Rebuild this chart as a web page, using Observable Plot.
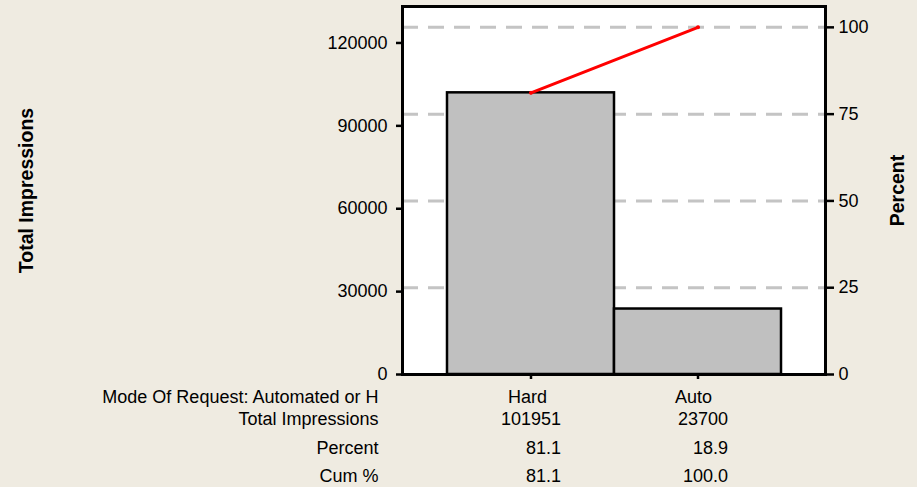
<!DOCTYPE html>
<html>
<head>
<meta charset="utf-8">
<script src="https://cdn.jsdelivr.net/npm/d3@7"></script>
<script src="https://cdn.jsdelivr.net/npm/@observablehq/plot@0.6"></script>
<style>
  html, body { margin: 0; padding: 0; background: #efebe1; }
  #chart { width: 917px; height: 487px; }
</style>
</head>
<body>
<div id="chart"></div>
<script>
const categories = ["Hard", "Auto"];
const totals = [101951, 23700];
const percents = [81.1, 18.9];
const cumPercents = [81.1, 100.0];
const leftTicks = [0, 30000, 60000, 90000, 120000];
const rightTicks = [0, 25, 50, 75, 100];
const rowLabels = ["Mode Of Request: Automated or H", "Total Impressions", "Percent", "Cum %"];
const yTitle = "Total Impressions";
const y2Title = "Percent";

const grand = d3.sum(totals);
const cumTotals = d3.cumsum(totals);
const data = categories.map((c, i) => ({
  cat: c, total: totals[i], pct: percents[i], cum: cumPercents[i], cumTotal: cumTotals[i]
}));
const pctToY = p => p / 100 * grand;

const rowDy = [23, 44.5, 73.5, 101.5];
const font = "Liberation Sans, Arial, sans-serif";

const rowMarks = [];
rowLabels.forEach((lab, r) => {
  rowMarks.push(Plot.text([lab], {
    frameAnchor: "bottom-left", text: d => d, dx: -24, dy: rowDy[r],
    textAnchor: "end", lineAnchor: "middle", fill: "black"
  }));
});
rowMarks.push(Plot.text(data, {x: "cat", text: "cat", frameAnchor: "bottom", dx: -23, dy: rowDy[0], textAnchor: "start", lineAnchor: "middle", fill: "black"}));
rowMarks.push(Plot.text(data, {x: "cat", text: d => String(d.total), frameAnchor: "bottom", dx: 30, dy: rowDy[1], textAnchor: "end", lineAnchor: "middle", fill: "black"}));
rowMarks.push(Plot.text(data, {x: "cat", text: d => d.pct.toFixed(1), frameAnchor: "bottom", dx: 30, dy: rowDy[2], textAnchor: "end", lineAnchor: "middle", fill: "black"}));
rowMarks.push(Plot.text(data, {x: "cat", text: d => d.cum.toFixed(1), frameAnchor: "bottom", dx: 30, dy: rowDy[3], textAnchor: "end", lineAnchor: "middle", fill: "black"}));

const chart = Plot.plot({
  width: 917,
  height: 487,
  marginLeft: 402,
  marginRight: 92,
  marginTop: 6,
  marginBottom: 113,
  style: {background: "#efebe1", fontFamily: font, fontSize: "18px", color: "black", overflow: "visible"},
  x: {type: "band", domain: categories, paddingInner: 0, paddingOuter: 0.266, axis: null},
  y: {domain: [0, 133200], axis: null},
  marks: [
    Plot.frame({fill: "white", stroke: null}),
    Plot.gridY(rightTicks.filter(p => p > 0).map(pctToY), {stroke: "#c4c4c4", strokeOpacity: 1, strokeWidth: 3, strokeDasharray: "16,10"}),
    Plot.barY(data, {x: "cat", y: "total", fill: "#c0c0c0", stroke: "black", strokeWidth: 2.5}),
    Plot.line(data, {x: "cat", y: "cumTotal", stroke: "red", strokeWidth: 3}),
    Plot.dot(data, {x: "cat", y: "cumTotal", r: 2, fill: "red", stroke: null}),
    Plot.frame({stroke: "black", strokeWidth: 3}),
    Plot.axisY(leftTicks, {anchor: "left", tickSize: 6, tickPadding: 9, strokeWidth: 2.5, label: null, tickFormat: d => String(d)}),
    Plot.axisY(rightTicks.map(pctToY), {anchor: "right", tickSize: 8, tickPadding: 5, strokeWidth: 2.5, label: null, tickFormat: d => String(Math.round(d / grand * 100))}),
    Plot.axisX({anchor: "bottom", tickSize: 5, strokeWidth: 2.5, label: null, tickFormat: () => ""}),
    ...rowMarks,
    Plot.text([yTitle], {text: d => d, frameAnchor: "left", dx: -376, rotate: -90, textAnchor: "middle", lineAnchor: "middle", fontWeight: "bold", fontSize: 19.5, fill: "black"}),
    Plot.text([y2Title], {text: d => d, frameAnchor: "right", dx: 72, rotate: -90, textAnchor: "middle", lineAnchor: "middle", fontWeight: "bold", fontSize: 19.5, fill: "black"})
  ]
});
document.getElementById("chart").appendChild(chart);
</script>
</body>
</html>
